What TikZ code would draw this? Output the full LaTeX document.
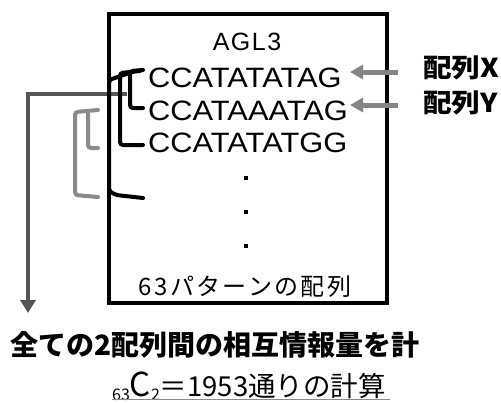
\documentclass[tikz,border=0pt]{standalone}
\usepackage{fontspec}
\setmainfont{Liberation Sans}
\newfontfamily\seqf{Liberation Sans}
\newfontfamily\jp{Noto Sans CJK JP}
\newfontfamily\jpwide{Noto Sans CJK JP}[FakeStretch=1.1]
\usetikzlibrary{arrows.meta}
\definecolor{lgray}{HTML}{8A8A8A}
\definecolor{dgray}{HTML}{555555}
\definecolor{agray}{HTML}{858585}
\tikzset{
  seq/.style={anchor=west,inner sep=0pt,font=\seqf\fontsize{28}{28}\selectfont},
  lab/.style={anchor=west,inner sep=0pt,font=\jpwide\bfseries\fontsize{26}{26}\selectfont},
  brk/.style={line width=4pt,rounded corners=3pt,line cap=round},
  garrow/.style={agray,line width=5pt,-{Triangle[width=14pt,length=13pt]}},
}
\begin{document}
\begin{tikzpicture}[x=1pt,y=-1pt]
\useasboundingbox (0,0) rectangle (501,402);
% main arrow (behind)
\coordinate (armstart) at (127,94);
\coordinate (armend) at (28,313);
\draw[dgray,line width=4pt,-{Triangle[width=15pt,length=13pt]}] (armstart) -- (28,94) -- (armend);
% box
\node[draw,line width=4pt,minimum width=278pt,minimum height=289pt,anchor=north west,inner sep=0pt] (box) at (107,12) {};
\node[inner sep=0pt,font=\seqf\addfontfeature{LetterSpace=6}\fontsize{25}{25}\selectfont] (title) at (247,42) {AGL3};
\node[seq] (s1) at (148,78) {\scalebox{1.1}[1]{CCATATATAG}};
\node[seq] (s2) at (148,111) {\scalebox{1.1}[1]{CCATAAATAG}};
\node[seq] (s3) at (148,143) {\scalebox{1.1}[1]{CCATATATGG}};
\foreach \yy in {176,210,244}{\fill (244,\yy) rectangle +(3.5,3.5);}
\node[inner sep=0pt,font=\jp\addfontfeature{LetterSpace=10}\fontsize{24}{24}\selectfont] (pat) at (245,287) {63パターンの配列};
% brackets
\draw[brk] (143,70) -- (130,71) -- (130,108) -- (143,108);
\draw[brk] (140,71) -- (120,73) -- (120,145) -- (143,145);
\draw[brk] (135,71) -- (109,80) -- (109,191) -- (116,195) -- (143,198);
\draw[brk,lgray] (98,110) -- (75,112) -- (75,195) -- (98,197);
\draw[brk,lgray] (88,114) -- (88,148) -- (98,148);
% labels X, Y
\node[lab] (lx) at (423,68) {配列X};
\node[lab] (ly) at (423,103) {配列Y};
\coordinate (tx) at (350,72);
\coordinate (ty) at (350,105);
\draw[garrow] ([shift={(-25,4)}]lx.west) -- (tx);
\draw[garrow] ([shift={(-25,2)}]ly.west) -- (ty);
% bottom texts
\node[anchor=west,inner sep=0pt,font=\jp\bfseries\fontsize{28}{28}\selectfont] (calc) at (10,345) {全ての2配列間の相互情報量を計};
\node[anchor=west,inner sep=0pt,font=\jp\fontsize{27.5}{27.5}\selectfont] (comb) at (112,386) {{\fontsize{16}{16}\selectfont\raisebox{-4pt}{63}}{\fontsize{33}{33}\selectfont C}{\fontsize{16}{16}\selectfont\raisebox{-4pt}{2}}＝1953通りの計算};
\draw[lgray,line width=0.8pt] (112,399.5) -- (390,399.5);
\end{tikzpicture}
\end{document}
